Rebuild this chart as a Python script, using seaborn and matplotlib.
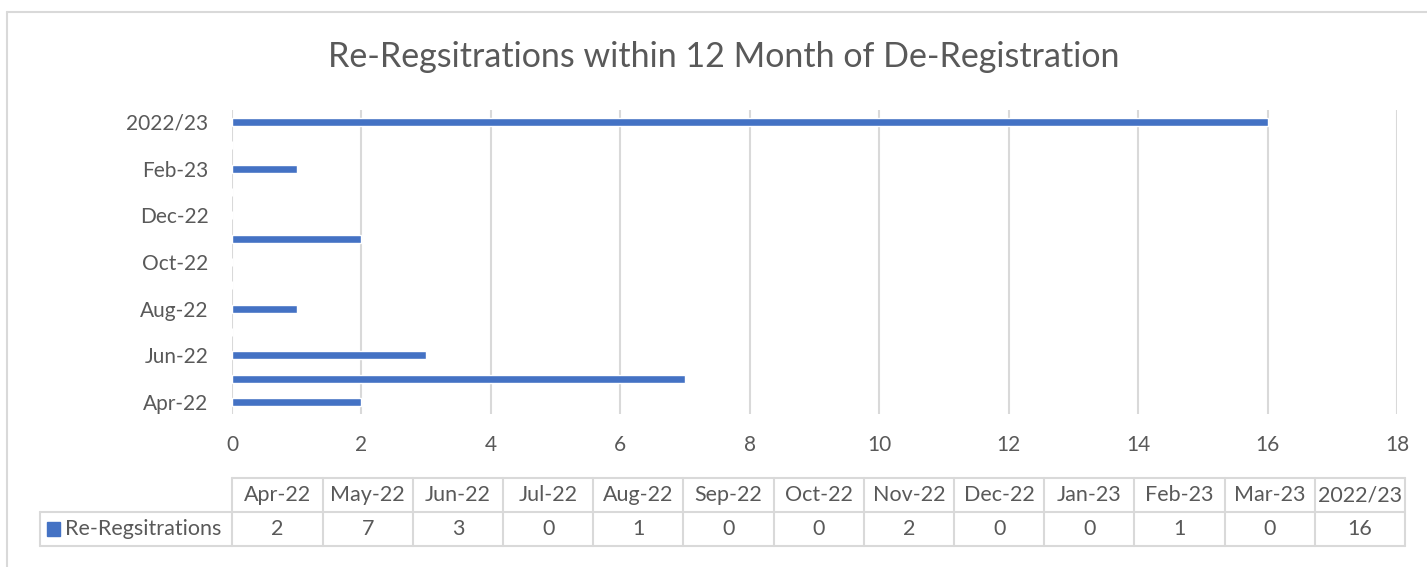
import matplotlib
matplotlib.use("Agg")
import matplotlib.pyplot as plt
from matplotlib.lines import Line2D
from matplotlib.patches import Rectangle
import seaborn as sns
import pandas as pd

# data
months = ["Apr-22", "May-22", "Jun-22", "Jul-22", "Aug-22", "Sep-22", "Oct-22",
          "Nov-22", "Dec-22", "Jan-23", "Feb-23", "Mar-23", "2022/23"]
re_regs = [2, 7, 3, 0, 1, 0, 0, 2, 0, 0, 1, 0, 16]
series_name = "Re-Regsitrations"
title = "Re-Regsitrations within 12 Month of De-Registration"
x_ticks = list(range(0, 19, 2))

BLUE = "#4472C4"
TEXT = "#595959"
GRID = "#D9D9D9"
W, H = 1427, 567

sns.set_theme(style="white")
plt.rcParams["font.family"] = ["Lato", "DejaVu Sans"]

df = pd.DataFrame({"month": months, "value": re_regs})

fig = plt.figure(figsize=(W / 100, H / 100), dpi=100)

# main bar axes
ax = fig.add_axes([232 / W, (H - 413.7) / H, 1165 / W, 303.4 / H])
sns.barplot(data=df, x="value", y="month", orient="h", color=BLUE,
            width=0.34, saturation=1, ax=ax)
ax.invert_yaxis()
ax.set_xlim(0, 18)
ax.set_xticks(x_ticks)
ax.set_yticks(range(0, len(months), 2))
ax.set_yticklabels(months[::2])
ax.tick_params(axis="x", length=0, pad=15, labelsize=15, labelcolor=TEXT)
ax.tick_params(axis="y", length=0, pad=17, labelsize=15, labelcolor=TEXT)
ax.set_xlabel("")
ax.set_ylabel("")
ax.grid(axis="x", color=GRID, linewidth=1.5)
ax.set_axisbelow(True)
for s in ax.spines.values():
    s.set_visible(False)

fig.text(724 / W, 1 - 57 / H, title, ha="center", va="center",
         fontsize=24.5, color=TEXT)

# data table under the chart
lab_w = 192 / 90
ax_t = fig.add_axes([40 / W, (H - 546) / H, 1365 / W, 68 / H])
ax_t.set_xlim(-lab_w, len(months))
ax_t.set_ylim(0, 2)
ax_t.axis("off")
lk = dict(color=GRID, linewidth=1.5, clip_on=False)
ax_t.plot([0, len(months)], [2, 2], **lk)
ax_t.plot([-lab_w, len(months)], [1, 1], **lk)
ax_t.plot([-lab_w, len(months)], [0, 0], **lk)
ax_t.plot([-lab_w, -lab_w], [0, 1], **lk)
for i in range(len(months) + 1):
    ax_t.plot([i, i], [0, 2], **lk)
for i, (m, v) in enumerate(zip(months, re_regs)):
    ax_t.text(i + 0.5, 1.5, m, ha="center", va="center", fontsize=15.5, color=TEXT)
    ax_t.text(i + 0.5, 0.5, str(v), ha="center", va="center", fontsize=15.5, color=TEXT)
ax_t.add_patch(Rectangle((-lab_w + 7 / 90, 0.3), 13 / 90, 0.4, color=BLUE,
                         clip_on=False))
ax_t.text(-lab_w + 25 / 90, 0.5, series_name, ha="left", va="center",
          fontsize=15.5, color=TEXT)

# chart border (left and top visible)
fig.add_artist(Line2D([7 / W, 7 / W], [0, 1 - 12 / H], color=GRID, linewidth=1.5))
fig.add_artist(Line2D([7 / W, 1], [1 - 12 / H, 1 - 12 / H], color=GRID, linewidth=1.5))

fig.savefig("out.png", dpi=100, facecolor="white")
